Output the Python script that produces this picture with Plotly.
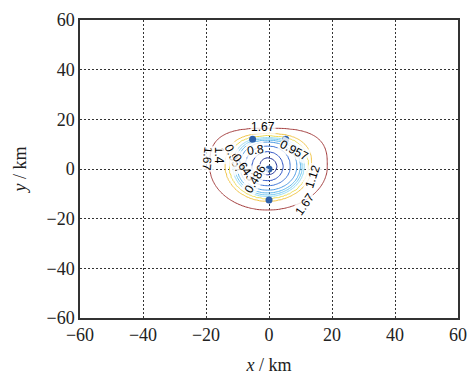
import numpy as np
import plotly.graph_objects as go

# ---- data ----
station_x = [0.0, -5.2, 5.3, 0.0]
station_y = [0.0, 12.0, 12.0, -12.5]

levels = [0.486, 0.643, 0.8, 0.957, 1.01, 1.06, 1.09, 1.12, 1.4, 1.67]
level_colors = ["#1f2f96", "#2d52c4", "#3b72d6", "#4a98e2", "#5cb6ec", "#74caf2",
                "#92dcf4", "#ecdc52", "#f2c444", "#a33c3c"]
# traced extents of each contour (km)
ext_right = [2.5, 4.5, 6.8, 8.8, 10.0, 10.5, 11.1, 12.6, 13.5, 18.5]
ext_left = [-3.0, -5.5, -7.6, -9.2, -10.2, -10.8, -11.4, -12.8, -13.8, -18.8]
ext_top = [4.5, 7.0, 9.3, 10.8, 11.6, 12.1, 12.6, 13.5, 14.2, 16.3]
ext_bottom = [-2.4, -4.8, -6.8, -8.5, -9.7, -10.4, -11.1, -12.1, -12.9, -16.5]
shape_p_top = [2.0, 2.0, 2.1, 2.2, 2.3, 2.3, 2.4, 2.5, 2.6, 3.0]
center = (-0.5, 1.0)

# contour labels as placed in the reference (level index, position, angle)
label_level = [9, 3, 2, 7, 9, 9, 8, 3, 1, 0]
label_x = [-2.0, 7.8, -4.4, 14.0, 11.4, -19.6, -16.0, -11.0, -7.8, -4.4]
label_y = [16.8, 7.6, 7.8, -3.0, -14.2, 4.0, 5.5, 4.0, 0.6, -4.0]
label_angle = [0, 28, -8, -72, -55, 95, 90, 65, 55, -60]

x_ticks = [-60, -40, -20, 0, 20, 40, 60]
y_ticks = [-60, -40, -20, 0, 20, 40, 60]

# ---- build contour table from the traced contours ----
gx = np.arange(-25, 25.01, 0.5)
gy = np.arange(-25, 25.01, 0.5)
X, Y = np.meshgrid(gx, gy)
dx = X - center[0]
dy = Y - center[1]
rho = []
for k in range(len(levels)):
    a = np.where(dx >= 0, ext_right[k] - center[0], center[0] - ext_left[k])
    b = np.where(dy >= 0, ext_top[k] - center[1], center[1] - ext_bottom[k])
    p = np.where(dy >= 0, shape_p_top[k], 2.0)
    r = (np.abs(dx / a) ** p + np.abs(dy / b) ** p) ** (1.0 / p)
    rho.append(r)
rho = np.array(rho)
K = len(levels)
nout = (rho > 1).sum(axis=0)
Z = np.zeros_like(X)
for i in range(Z.shape[0]):
    for j in range(Z.shape[1]):
        n = nout[i, j]
        if n == 0:
            Z[i, j] = levels[0] - (1 - rho[0, i, j]) * 0.2
        elif n >= K:
            Z[i, j] = levels[-1] + (rho[-1, i, j] - 1) * 0.6
        else:
            r0 = rho[n - 1, i, j]
            r1 = rho[n, i, j]
            t = (r0 - 1) / max(r0 - r1, 1e-9)
            t = min(max(t, 0), 1)
            Z[i, j] = levels[n - 1] + t * (levels[n] - levels[n - 1])
Z = np.round(Z, 4)

fig = go.Figure()
for lv, col in zip(levels, level_colors):
    fig.add_trace(go.Contour(
        x=gx, y=gy, z=Z,
        autocontour=False,
        contours=dict(start=lv, end=lv, size=1, coloring="lines", showlabels=False),
        colorscale=[[0, col], [1, col]],
        showscale=False,
        line=dict(width=1, smoothing=1),
        hoverinfo="skip",
    ))

fig.add_trace(go.Scatter(
    x=station_x, y=station_y, mode="markers",
    marker=dict(size=7, color="#2e60aa", line=dict(width=0)),
    hoverinfo="skip", showlegend=False,
))

for li, lx, ly, la in zip(label_level, label_x, label_y, label_angle):
    fig.add_annotation(
        x=lx, y=ly, xref="x", yref="y", text=f"{levels[li]:.3g}",
        showarrow=False, textangle=la,
        font=dict(family="Liberation Sans", size=12, color="black"),
        bgcolor="rgba(255,255,255,0.8)", borderpad=0,
    )

axis_common = dict(
    showgrid=True, gridcolor="#333333", gridwidth=1, griddash="2px,2px",
    showline=True, linecolor="#333333", linewidth=1.5, mirror=True,
    zeroline=False, ticks="", automargin=False,
    tickfont=dict(family="Liberation Serif", size=18, color="#222222"),
)
fig.update_xaxes(range=[-60, 60], tickvals=x_ticks,
                 ticktext=[str(v).replace("-", "\u2212") for v in x_ticks],
                 title=dict(text="<i>x</i> / km",
                            font=dict(family="Liberation Serif", size=18, color="#222222")),
                 **axis_common)
fig.update_yaxes(range=[-60, 60], tickvals=y_ticks,
                 ticktext=[str(v).replace("-", "\u2212") for v in y_ticks],
                 title=dict(text="<i>y</i> / km",
                            font=dict(family="Liberation Serif", size=18, color="#222222")),
                 **axis_common)
fig.update_layout(
    width=468, height=375,
    margin=dict(l=80, r=10, t=20, b=57),
    plot_bgcolor="white", paper_bgcolor="white",
    showlegend=False,
)
fig.write_html("out.html", config={"displayModeBar": False},
               post_script="document.body.style.margin='0';document.body.style.overflow='hidden';")
